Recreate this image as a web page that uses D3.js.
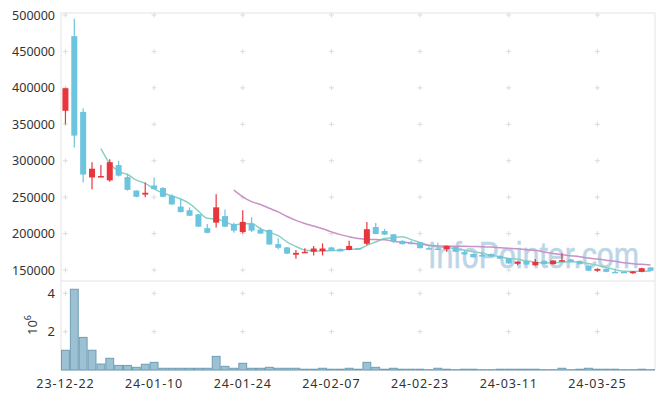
<!DOCTYPE html>
<html>
<head>
<meta charset="utf-8">
<script src="https://cdn.jsdelivr.net/npm/d3@7"></script>
<style>
  body { margin: 0; background: #fff; }
  text { font-family: "Noto Sans", "Open Sans", sans-serif; }
</style>
</head>
<body>
<svg id="chart" width="665" height="399"></svg>
<script>
const dates = [
  "23-12-22","23-12-26","23-12-27","23-12-28","24-01-02","24-01-03","24-01-04","24-01-05","24-01-08","24-01-09",
  "24-01-10","24-01-11","24-01-12","24-01-15","24-01-16","24-01-17","24-01-18","24-01-19","24-01-22","24-01-23",
  "24-01-24","24-01-25","24-01-26","24-01-29","24-01-30","24-01-31","24-02-01","24-02-02","24-02-05","24-02-06",
  "24-02-07","24-02-08","24-02-13","24-02-14","24-02-15","24-02-16","24-02-19","24-02-20","24-02-21","24-02-22",
  "24-02-23","24-02-26","24-02-27","24-02-28","24-02-29","24-03-04","24-03-05","24-03-06","24-03-07","24-03-08",
  "24-03-11","24-03-12","24-03-13","24-03-14","24-03-15","24-03-18","24-03-19","24-03-20","24-03-21","24-03-22",
  "24-03-25","24-03-26","24-03-27","24-03-28","24-03-29","24-04-01","24-04-02"
];
const open = [
  368500,471000,367000,277000,277000,273000,294000,277500,259000,253500,
  266000,262500,252000,237000,232000,226500,207500,215000,224000,213000,
  202000,213500,205500,205000,185500,181000,171000,173500,175000,176000,
  181000,179000,177500,180000,186000,209000,203500,199000,190000,187500,
  188000,180000,179500,178500,181500,174500,172000,170500,172000,169000,
  166000,158500,162500,156500,162500,158000,161500,164500,162500,155500,
  149000,151500,147500,147500,145500,147500,153500
];
const high = [
  400000,495000,372000,298000,294000,302000,300000,282000,259500,270000,
  277000,264000,254000,248000,236000,227000,213000,254000,233000,215000,
  232000,222500,208500,205500,193500,181500,177500,180000,183000,186500,
  182000,179500,190000,180500,216000,214500,206500,199500,191000,190000,
  188500,182500,187500,183500,182000,177500,172500,174500,172500,169500,
  166500,162000,163000,165000,163000,163500,173000,165000,163000,156000,
  152000,152000,152000,148000,148500,153000,154000
];
const low = [
  350000,318000,270000,261000,277000,271000,278500,259000,250000,250000,
  261000,250000,239500,229000,224000,209000,200500,208500,209000,201000,
  200500,202000,199500,184500,178500,172000,165500,173500,170000,170000,
  176000,175500,177000,178000,184000,199000,198000,187500,185000,185500,
  179500,178000,177500,175000,174500,171000,167000,168500,168000,165000,
  158500,156500,157000,156000,157500,157500,161000,160500,157500,148500,
  147500,147000,146000,146000,145000,147000,148500
];
const close = [
  399500,334500,281000,289000,279000,298000,279500,260000,250500,256000,
  261000,250500,240000,229500,224500,209500,201000,236000,209500,204000,
  216000,204000,200000,185000,180500,172500,173500,175000,179500,179500,
  176000,175500,183000,178500,206000,199500,198500,189000,185500,186000,
  180000,178500,178000,183000,175000,171500,167500,169000,168500,165500,
  159000,161500,157500,161000,158000,163000,163500,161000,158000,149000,
  151500,147500,146500,146500,148000,152500,149000
];
const volume = [
  1030000,4210000,1700000,1030000,310000,610000,240000,240000,140000,300000,
  400000,90000,90000,90000,90000,90000,90000,710000,190000,90000,
  350000,90000,90000,140000,90000,90000,90000,40000,40000,90000,
  40000,40000,90000,40000,400000,140000,40000,90000,40000,40000,
  40000,15000,90000,40000,15000,40000,40000,15000,15000,40000,
  40000,40000,40000,40000,15000,15000,90000,15000,40000,90000,
  40000,40000,40000,15000,15000,40000,15000
];
const priceTicks = [150000, 200000, 250000, 300000, 350000, 400000, 450000, 500000];
const volumeTicks = [2000000, 4000000];
const xTickIndex = [0, 10, 20, 30, 40, 50, 60];

const svg = d3.select("#chart");
const plotLeft = 61, plotRight = 655, plotTop = 13, plotSplit = 281, plotBottom = 370;

const x = d3.scaleBand().domain(d3.range(dates.length)).range([plotLeft, plotRight]).padding(0);
const cx = i => x(i) + x.bandwidth() / 2;
const y = d3.scaleLinear().domain([150000, 500000]).range([270, 15]);
const yv = d3.scaleLinear().domain([0, 4000000]).range([plotBottom, 293.3]);

const gridColor = "#e4e4e4";

// frame
svg.append("rect").attr("x", plotLeft).attr("y", plotTop)
    .attr("width", plotRight - plotLeft).attr("height", plotBottom - plotTop)
    .attr("fill", "none").attr("stroke", gridColor);
svg.append("line").attr("x1", plotLeft).attr("x2", plotRight).attr("y1", plotSplit).attr("y2", plotSplit)
    .attr("stroke", gridColor);

// grid crosses
const crossY = priceTicks.map(y).concat(volumeTicks.map(yv));
const crosses = svg.append("g").attr("stroke", "#dcdcdc").attr("stroke-width", 1);
xTickIndex.forEach(i => crossY.forEach(cy => {
  crosses.append("path").attr("d", `M${cx(i) - 2.5},${cy}h5M${cx(i)},${cy - 2.5}v5`);
}));

// watermark
svg.append("text").attr("x", 428).attr("y", 268).attr("textLength", 211).attr("lengthAdjust", "spacingAndGlyphs")
    .style("font-family", "'Liberation Sans Narrow', 'Liberation Sans', sans-serif")
    .attr("font-size", 37).attr("fill", "#bcd6e7")
    .attr("stroke", "#bcd6e7").attr("stroke-width", 0.6)
    .text("InfoPointer.com");

// price axis
svg.append("g").attr("transform", `translate(${plotLeft - 6},0)`)
    .call(d3.axisLeft(y).tickValues(priceTicks).tickSize(0).tickPadding(0).tickFormat(d3.format("d")))
    .call(g => g.select(".domain").remove())
    .selectAll("text").attr("font-size", 12.5).attr("fill", "#333");

// volume axis
svg.append("g").attr("transform", `translate(${plotLeft - 6},0)`)
    .call(d3.axisLeft(yv).tickValues(volumeTicks).tickSize(0).tickPadding(0).tickFormat(d => d / 1e6))
    .call(g => g.select(".domain").remove())
    .selectAll("text").attr("font-size", 13).attr("fill", "#333");

svg.append("text").attr("transform", "translate(37,325) rotate(-90)").attr("text-anchor", "middle")
    .attr("font-size", 13).attr("fill", "#333")
    .text("10").append("tspan").attr("dy", -6).attr("font-size", 9).text("6");

// date axis
svg.append("g").attr("transform", `translate(0,${plotBottom})`)
    .call(d3.axisBottom(x).tickValues(xTickIndex).tickSize(0).tickPadding(9).tickFormat(i => dates[i]))
    .call(g => g.select(".domain").remove())
    .selectAll("text").attr("font-size", 12.5).attr("fill", "#333").attr("letter-spacing", 0.9);

// volume bars
svg.append("g").selectAll("rect").data(volume).join("rect")
    .attr("x", (d, i) => x(i) + 0.5).attr("width", x.bandwidth() - 1)
    .attr("y", d => yv(d)).attr("height", d => plotBottom - yv(d))
    .attr("fill", "#9bc1d2").attr("stroke", "#6f9db5").attr("stroke-width", 1);

// price panel
svg.append("clipPath").attr("id", "pclip").append("rect")
    .attr("x", plotLeft).attr("y", plotTop).attr("width", plotRight - plotLeft).attr("height", plotSplit - plotTop);
const price = svg.append("g").attr("clip-path", "url(#pclip)");

const sma = n => close.map((c, i) => i < n - 1 ? null : d3.mean(close.slice(i - n + 1, i + 1)));
const line = d3.line().defined(d => d[1] != null).x(d => cx(d[0])).y(d => y(d[1])).curve(d3.curveMonotoneX);
[[sma(5), "#8ccfc5"], [sma(20), "#c992c6"]].forEach(([vals, color]) => {
  price.append("path").attr("d", line(vals.map((v, i) => [i, v])))
      .attr("fill", "none").attr("stroke", color).attr("stroke-width", 1.5);
});

const up = "#e8363c", down = "#6cc4de";
const candles = price.append("g").selectAll("g").data(d3.range(dates.length)).join("g")
    .attr("fill", i => close[i] >= open[i] ? up : down)
    .attr("stroke", i => close[i] >= open[i] ? up : down);
candles.append("line")
    .attr("x1", cx).attr("x2", cx).attr("y1", i => y(high[i])).attr("y2", i => y(low[i]))
    .attr("stroke-width", 1.2);
candles.append("rect")
    .attr("x", i => cx(i) - 3).attr("width", 6)
    .attr("y", i => y(Math.max(open[i], close[i])))
    .attr("height", i => Math.max(1.5, Math.abs(y(open[i]) - y(close[i]))))
    .attr("stroke", "none");
</script>
</body>
</html>
